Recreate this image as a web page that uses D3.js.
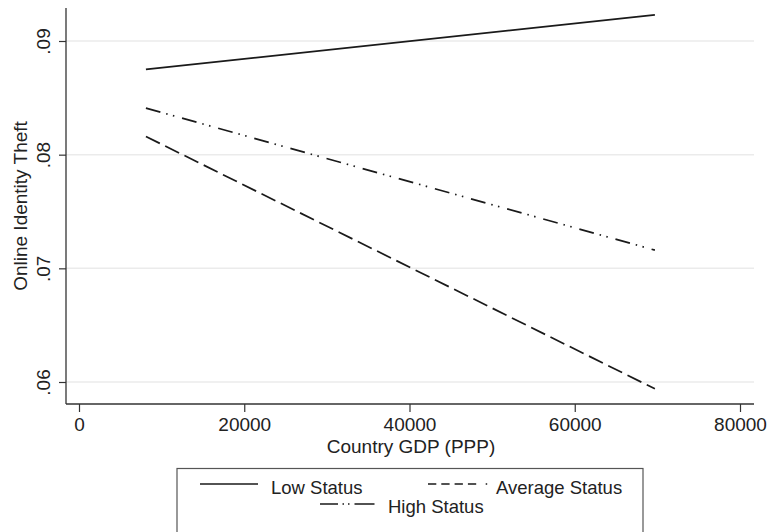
<!DOCTYPE html>
<html>
<head>
<meta charset="utf-8">
<script src="https://cdn.jsdelivr.net/npm/d3@7"></script>
<style>
  body { margin: 0; background: #fff; }
  text { font-family: "Liberation Sans", Arial, sans-serif; fill: #222; }
</style>
</head>
<body>
<svg width="770" height="532"></svg>
<script>
// chart data
var gdp = [8100, 69700];
var lowStatus = [0.0875, 0.0923];
var averageStatus = [0.0816, 0.0594];
var highStatus = [0.0841, 0.0716];
var xTicks = [0, 20000, 40000, 60000, 80000];
var yTicks = [0.06, 0.07, 0.08, 0.09];

(function () {
    var svg = d3.select("svg");
    var plotLeft = 66, plotRight = 754, plotTop = 8, plotBottom = 404;

    var x = d3.scaleLinear().domain([0, 80000]).range([79, 740]);
    var y = d3.scaleLinear().domain([0.06, 0.09]).range([382, 41]);

    // gridlines
    svg.append("g").selectAll("line")
        .data(yTicks)
        .enter().append("line")
        .attr("x1", plotLeft).attr("x2", plotRight)
        .attr("y1", function (d) { return y(d); })
        .attr("y2", function (d) { return y(d); })
        .attr("stroke", "#ebebeb")
        .attr("stroke-width", 1.5);

    // axes (domain lines drawn by hand to match the plot region)
    var xAxis = svg.append("g")
        .attr("transform", "translate(0," + plotBottom + ")")
        .call(d3.axisBottom(x).tickValues(xTicks).tickSize(8)
            .tickFormat(d3.format("d")));
    xAxis.select(".domain").remove();
    xAxis.selectAll("line").attr("stroke", "#333").attr("stroke-width", 1.2);
    xAxis.selectAll("text").attr("font-size", 19).attr("y", 27).attr("dy", 0);

    var yAxis = svg.append("g")
        .attr("transform", "translate(" + plotLeft + ",0)")
        .call(d3.axisLeft(y).tickValues(yTicks).tickSize(7)
            .tickFormat(function (d) { return d3.format(".2f")(d).replace(/^0/, ""); }));
    yAxis.select(".domain").remove();
    yAxis.selectAll("line").attr("stroke", "#333").attr("stroke-width", 1.2);
    yAxis.selectAll("text")
        .attr("font-size", 19)
        .attr("text-anchor", "middle")
        .attr("x", 0).attr("y", 0).attr("dy", 0)
        .attr("transform", "translate(-16,0) rotate(-90)");

    svg.append("line")
        .attr("x1", plotLeft).attr("x2", plotLeft)
        .attr("y1", plotTop).attr("y2", plotBottom)
        .attr("stroke", "#333").attr("stroke-width", 1.3);
    svg.append("line")
        .attr("x1", plotLeft).attr("x2", plotRight)
        .attr("y1", plotBottom).attr("y2", plotBottom)
        .attr("stroke", "#333").attr("stroke-width", 1.3);

    // axis titles
    svg.append("text")
        .attr("x", 411).attr("y", 453)
        .attr("text-anchor", "middle").attr("font-size", 19)
        .text("Country GDP (PPP)");
    svg.append("text")
        .attr("transform", "translate(27," + (plotTop + plotBottom) / 2 + ") rotate(-90)")
        .attr("text-anchor", "middle").attr("font-size", 19)
        .text("Online Identity Theft");

    // lines
    var series = [
        { name: "Low Status", values: lowStatus, dash: null },
        { name: "Average Status", values: averageStatus, dash: "15.5,6" },
        { name: "High Status", values: highStatus, dash: "15,6,1.5,5.5,1.5,8" }
    ];
    var line = d3.line()
        .x(function (d, i) { return x(gdp[i]); })
        .y(function (d) { return y(d); });

    svg.append("g").selectAll("path")
        .data(series)
        .enter().append("path")
        .attr("d", function (s) { return line(s.values); })
        .attr("fill", "none")
        .attr("stroke", "#1a1a1a")
        .attr("stroke-width", 1.7)
        .attr("stroke-dasharray", function (s) { return s.dash; });

    // legend
    var legend = svg.append("g");
    legend.append("rect")
        .attr("x", 177).attr("y", 468.5)
        .attr("width", 466).attr("height", 80)
        .attr("fill", "#fff").attr("stroke", "#555").attr("stroke-width", 1.2);

    var legendItems = [
        { name: "Low Status", x1: 200, x2: 258, y: 484, dash: null, tx: 271, ty: 494 },
        { name: "Average Status", x1: 428, x2: 488.5, y: 484, dash: "8.3,5,8.3,5,8.3,5,8.3,9.5,1.5,20", tx: 496, ty: 494 },
        { name: "High Status", x1: 320, x2: 375, y: 504, dash: "18,4.5,1.5,4,1.5,5,20", tx: 388, ty: 513 }
    ];
    legendItems.forEach(function (d) {
        legend.append("line")
            .attr("x1", d.x1).attr("x2", d.x2)
            .attr("y1", d.y).attr("y2", d.y)
            .attr("stroke", "#1a1a1a").attr("stroke-width", 1.7)
            .attr("stroke-dasharray", d.dash);
        legend.append("text")
            .attr("x", d.tx).attr("y", d.ty)
            .attr("font-size", 18.5)
            .text(d.name);
    });
}());
</script>
</body>
</html>
